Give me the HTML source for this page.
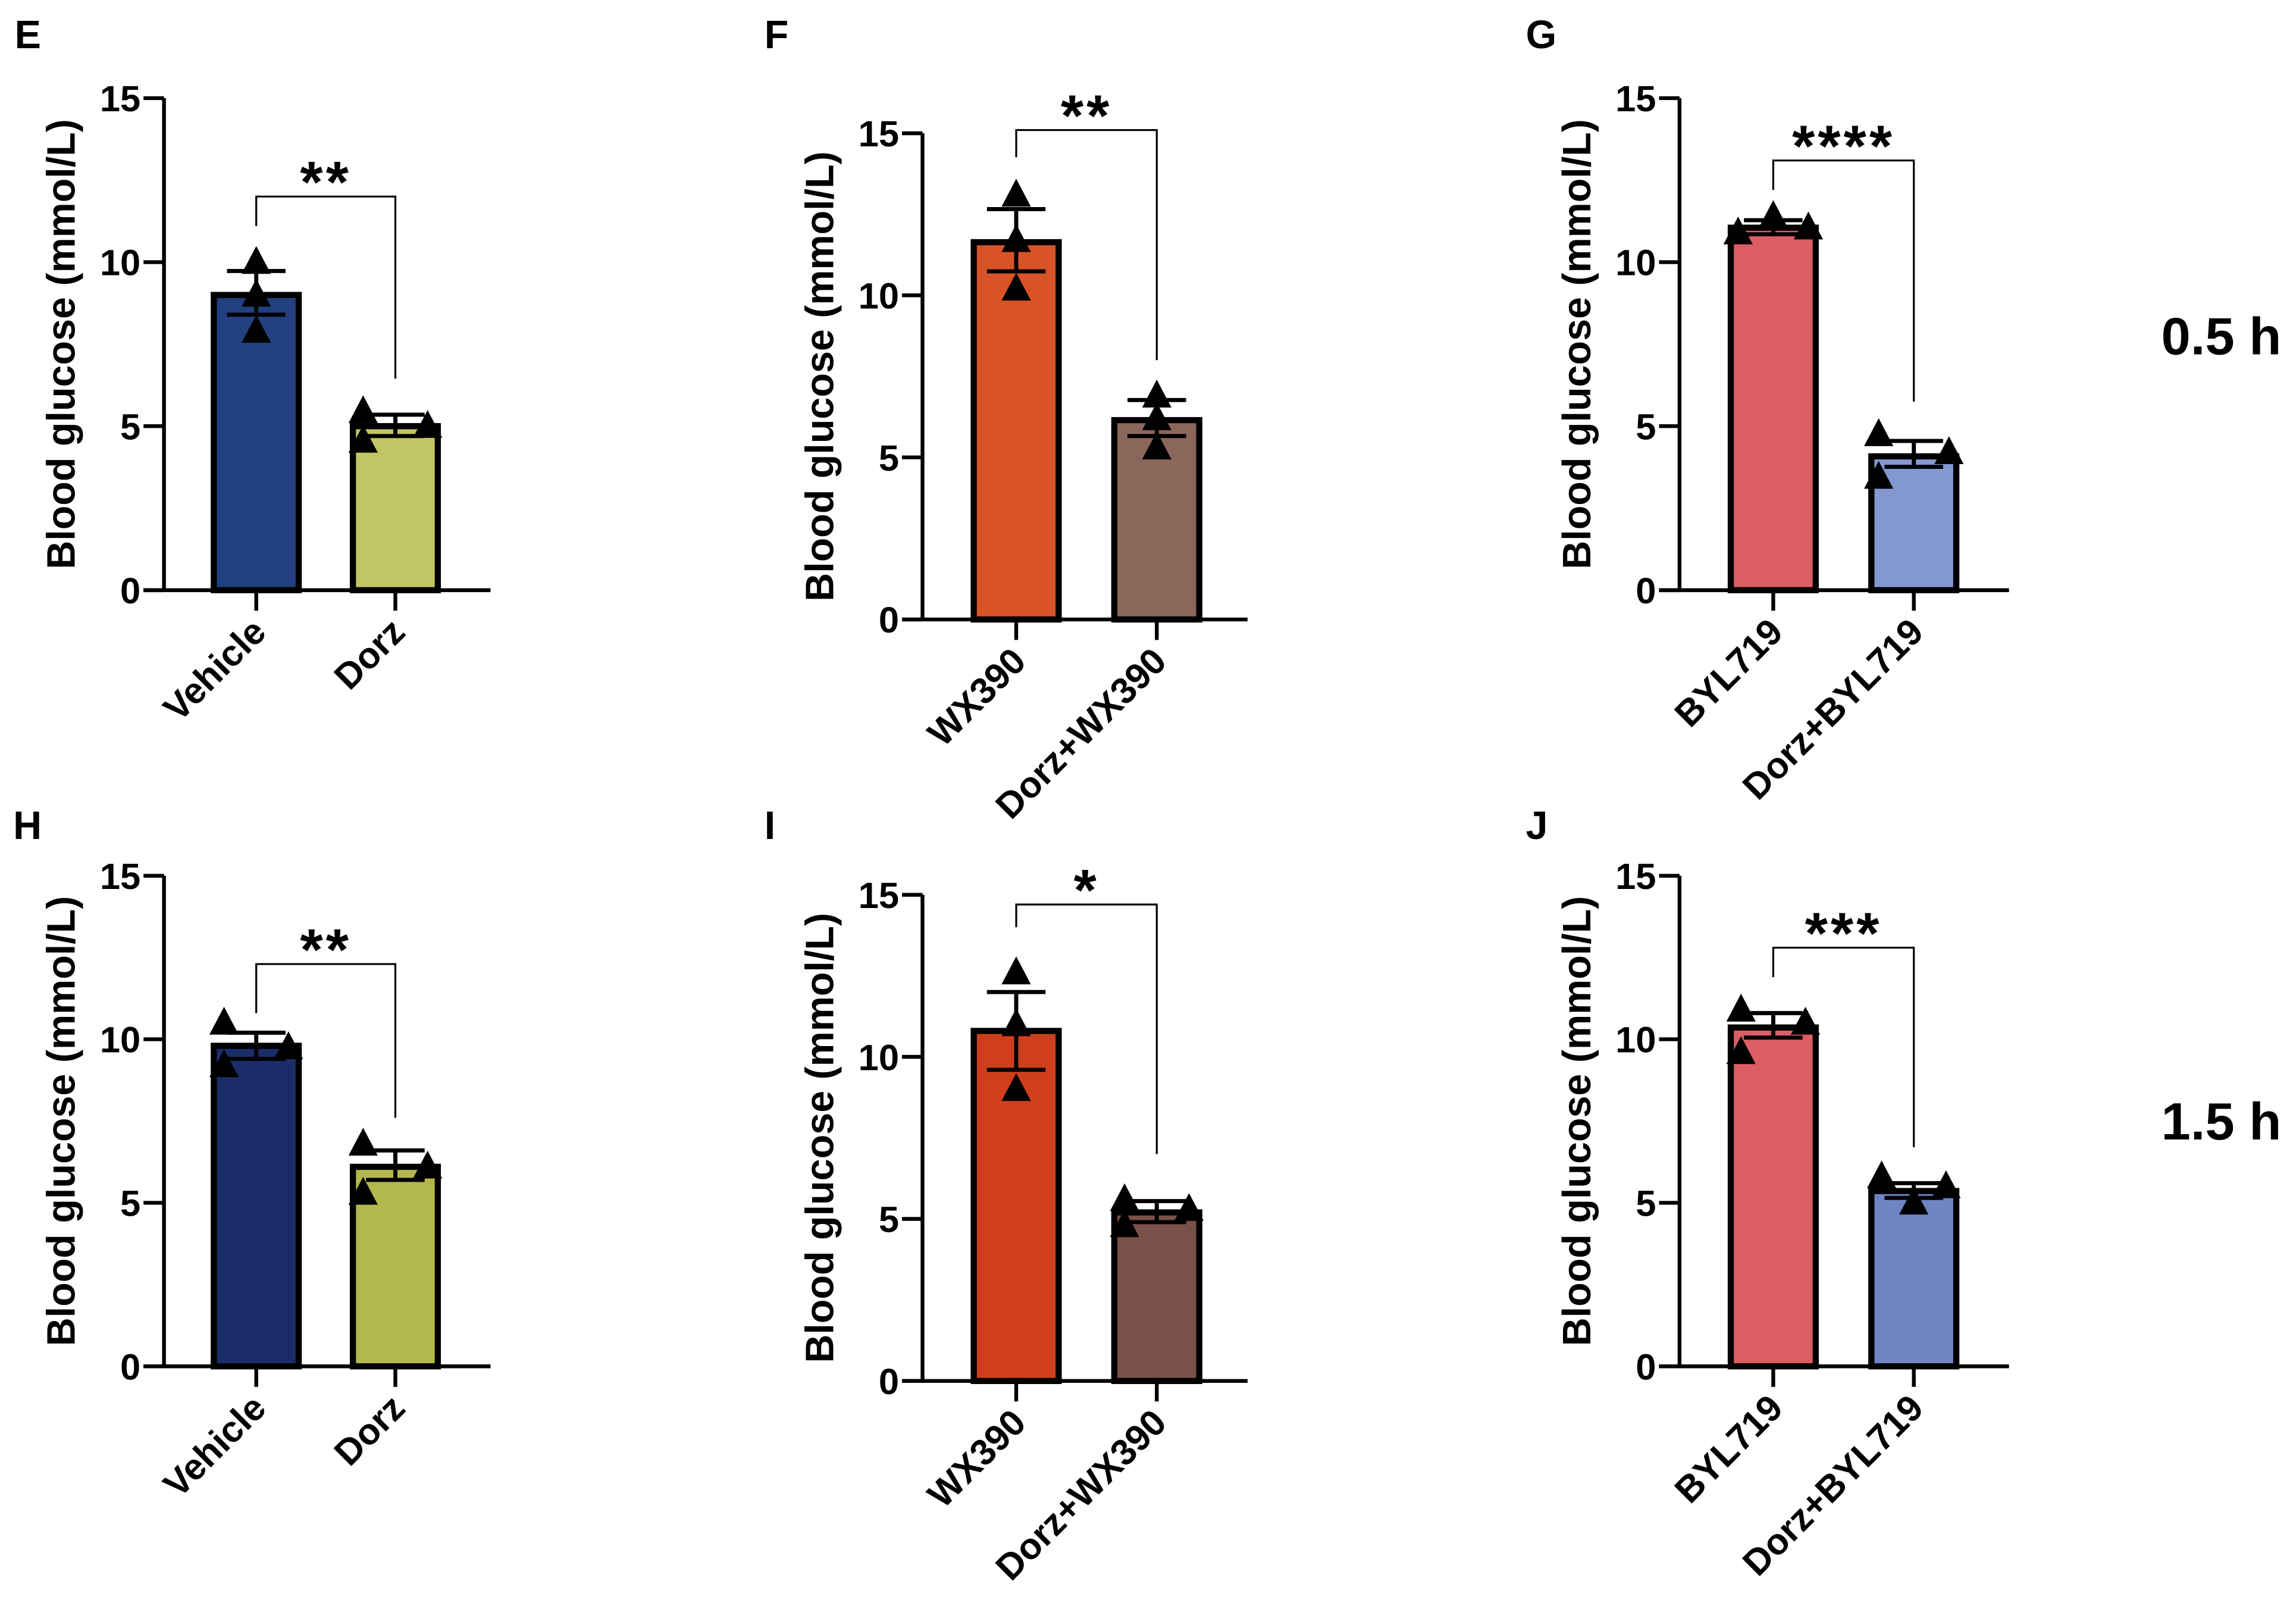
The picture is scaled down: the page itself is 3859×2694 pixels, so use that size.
<!DOCTYPE html>
<html><head><meta charset="utf-8">
<style>
html,body{margin:0;padding:0;background:#fff;}
svg{display:block;}
text{font-family:"Liberation Sans",Arial,sans-serif;font-weight:bold;fill:#000;}
</style></head>
<body>
<svg id="fig" width="3859" height="2694" viewBox="0 0 1568 1094.6" xmlns="http://www.w3.org/2000/svg"></svg>
<script>
// ---- data ----
const panelLetters = ["E","F","G","H","I","J"];
const categoriesE = ["Vehicle","Dorz"];
const categoriesF = ["WX390","Dorz+WX390"];
const categoriesG = ["BYL719","Dorz+BYL719"];
const yTicks = [0,5,10,15];
const meansE = [9.0, 5.0];   const semLoE = [8.4, 4.7];  const semHiE = [9.73, 5.35];
const ptsE = [[10.0, 9.0, 7.9],[5.45, 4.55, 5.0]];
const meansF = [11.64, 6.15]; const semLoF = [10.74, 5.66]; const semHiF = [12.66, 6.77];
const ptsF = [[13.1, 11.7, 10.2],[6.9, 6.2, 5.3]];
const meansG = [11.05, 4.08]; const semLoG = [10.85, 3.76]; const semHiG = [11.28, 4.55];
const ptsG = [[10.9, 11.4, 11.05],[4.75, 3.45, 4.2]];
const meansH = [9.8, 6.1];   const semLoH = [9.4, 5.7];  const semHiH = [10.2, 6.6];
const ptsH = [[10.5, 9.2, 9.75],[6.8, 5.3, 6.1]];
const meansI = [10.8, 5.2];  const semLoI = [9.6, 4.9];  const semHiI = [12.0, 5.55];
const ptsI = [[12.6, 11.0, 9.0],[5.6, 4.8, 5.3]];
const meansJ = [10.36, 5.36]; const semLoJ = [10.05, 5.15]; const semHiJ = [10.8, 5.6];
const ptsJ = [[10.9, 9.6, 10.5],[5.0, 5.8, 5.5]];
const sigE = "**", sigF = "**", sigG = "****", sigH = "**", sigI = "*", sigJ = "***";
const bracketE = [12.0, 11.1, 6.45], bracketF = [15.1, 14.26, 8.0], bracketG = [13.1, 12.2, 5.75];
const bracketH = [12.3, 10.8, 7.6], bracketI = [14.7, 14.0, 7.0], bracketJ = [12.8, 11.9, 6.7];
const timeLabels = ["0.5 h","1.5 h"];

// ---- layout (not data) ----
const NS="http://www.w3.org/2000/svg";
const svg=document.getElementById('fig');
function el(tag,attrs,parent){const e=document.createElementNS(NS,tag);for(const k in attrs)e.setAttribute(k,attrs[k]);(parent||svg).appendChild(e);return e;}

const panels=[
 {L:"E",ax:112,y15:67,y0:403,xe:335,cx:[175,270],cats:categoriesE,m:meansE,lo:semLoE,hi:semHiE,p:ptsE,col:["#22407f","#c2c563"],sig:sigE,br:bracketE,off:[[0,0,0],[-22,-22,22]],ly:22,lx:10},
 {L:"F",ax:630,y15:91,y0:423,xe:852,cx:[694,790],cats:categoriesF,m:meansF,lo:semLoF,hi:semHiF,p:ptsF,col:["#d85426","#8b675b"],sig:sigF,br:bracketF,off:[[0,0,0],[0,0,0]],ly:22,lx:522},
 {L:"G",ax:1147,y15:67,y0:403,xe:1372,cx:[1211,1307],cats:categoriesG,m:meansG,lo:semLoG,hi:semHiG,p:ptsG,col:["#dd5d65","#8398ce"],sig:sigG,br:bracketG,off:[[-24,0,24],[-24,-24,24]],ly:22,lx:1042},
 {L:"H",ax:112,y15:598,y0:933,xe:335,cx:[175,270],cats:categoriesE,m:meansH,lo:semLoH,hi:semHiH,p:ptsH,col:["#1b2d69","#b3b84e"],sig:sigH,br:bracketH,off:[[-22,-22,22],[-22,-22,22]],ly:562,lx:9},
 {L:"I",ax:630,y15:611,y0:943,xe:852,cx:[694,790],cats:categoriesF,m:meansI,lo:semLoI,hi:semHiI,p:ptsI,col:["#cf3f1d","#7a5148"],sig:sigI,br:bracketI,off:[[0,0,0],[-22,-22,22]],ly:562,lx:522},
 {L:"J",ax:1147,y15:598,y0:933,xe:1372,cx:[1211,1307],cats:categoriesG,m:meansJ,lo:semLoJ,hi:semHiJ,p:ptsJ,col:["#dd5d65","#7084c2"],sig:sigJ,br:bracketJ,off:[[-22,-22,22],[0,-22,22]],ly:562,lx:1042}
];

panels.forEach((P)=>{
  const g=el('g',{});
  
  
  const y=v=>P.y0-(P.y0-P.y15)*v/15;
  const lt=el('text',{x:P.lx,y:P.ly+11,'font-size':27},g); lt.textContent=P.L;
   
  P.m.forEach((v,i)=>{
    const r=el('rect',{x:P.cx[i]-29,y:y(v),width:58,height:P.y0-y(v),fill:P.col[i],stroke:'#000','stroke-width':4.2},g);
    
    
  });
  const ya=el('line',{x1:P.ax,y1:P.y15,x2:P.ax,y2:P.y0,stroke:'#000','stroke-width':2.6},g);
   
  const xa=el('line',{x1:P.ax-14,y1:P.y0,x2:P.xe,y2:P.y0,stroke:'#000','stroke-width':2.6},g);
   
  yTicks.forEach(t=>{
    el('line',{x1:P.ax-14,y1:y(t),x2:P.ax,y2:y(t),stroke:'#000','stroke-width':2.6},g);
    const tx=el('text',{x:P.ax-16,y:y(t)+9,'font-size':25,'text-anchor':'end'},g); tx.textContent=t;
     
  });
  const yl=el('text',{x:0,y:0,'font-size':27,'text-anchor':'middle',transform:`translate(${P.ax-61},${(P.y0+P.y15)/2}) rotate(-90)`},g);
  yl.textContent="Blood glucose (mmol/L)";
   
  P.cats.forEach((c,i)=>{
    el('line',{x1:P.cx[i],y1:P.y0,x2:P.cx[i],y2:P.y0+14,stroke:'#000','stroke-width':2.6},g);
    const ct=el('text',{x:0,y:0,'font-size':25,'text-anchor':'end',transform:`translate(${P.cx[i]+8},${P.y0+30}) rotate(-45)`},g);
    ct.textContent=c;
     
  });
  P.p.forEach((arr,i)=>{
    arr.forEach((v,k)=>{
      const px=P.cx[i]+P.off[i][k], py=y(v);
      const tr=el('polygon',{points:`${px-10},${py+8} ${px+10},${py+8} ${px},${py-11}`,fill:'#000'},g);
       
    });
  });
  P.m.forEach((v,i)=>{
    const e=el('path',{d:`M${P.cx[i]},${y(P.hi[i])}V${y(P.lo[i])}M${P.cx[i]-20},${y(P.hi[i])}H${P.cx[i]+20}M${P.cx[i]-20},${y(P.lo[i])}H${P.cx[i]+20}`,stroke:'#000','stroke-width':2.8,fill:'none'},g);
     
  });
  const b=el('path',{d:`M${P.cx[0]},${y(P.br[1])}V${y(P.br[0])}H${P.cx[1]}V${y(P.br[2])}`,stroke:'#000','stroke-width':1.3,fill:'none'},g);
   
  const s=el('text',{x:(P.cx[0]+P.cx[1])/2,y:y(P.br[0])+4,'font-size':40,'text-anchor':'middle','letter-spacing':2},g);
  s.textContent=P.sig;
   
});
[[242,timeLabels[0]],[778,timeLabels[1]]].forEach(([yy,t])=>{
  const tl=el('text',{x:1558,y:yy,'font-size':36,'text-anchor':'end'});
  tl.textContent=t;
   
});
</script>
</body></html>
